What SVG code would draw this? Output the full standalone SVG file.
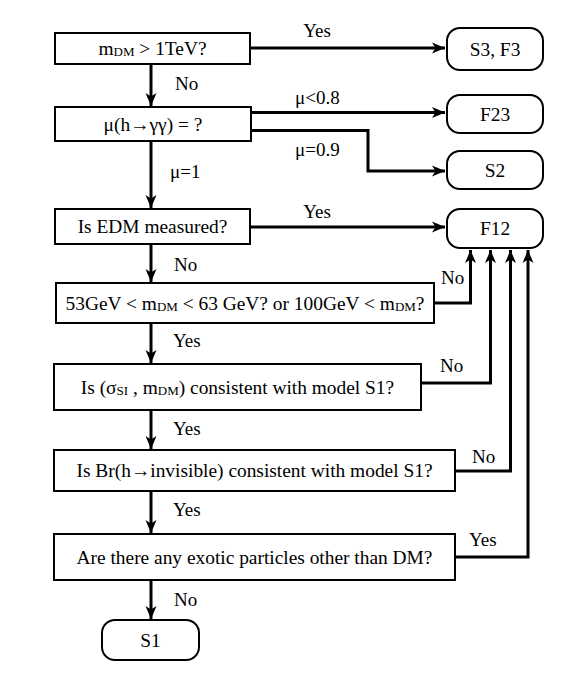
<svg xmlns="http://www.w3.org/2000/svg" width="581" height="678" viewBox="0 0 581 678">
<style>
.box{fill:#fff;stroke:#000;stroke-width:2}
.t{font-family:"Liberation Serif","Times New Roman",serif;font-size:19px;fill:#000}
.b{font-size:19.4px}
.c{text-anchor:middle}
.sub{font-size:13px}
.ln{fill:none;stroke:#000;stroke-width:3}
</style>
<defs>
<marker id="ah" markerUnits="userSpaceOnUse" markerWidth="14" markerHeight="12" refX="13" refY="6" orient="auto">
<path d="M0,0.5 L13,6 L0,11.5 L3.5,6 z" fill="#000"/>
</marker>
</defs>
<rect width="581" height="678" fill="#fff"/>
<g id="connectors">
<path class="ln" d="M250,48 H445" marker-end="url(#ah)"/>
<path class="ln" d="M151,64 V106" marker-end="url(#ah)"/>
<path class="ln" d="M251,112.5 H445" marker-end="url(#ah)"/>
<path class="ln" d="M251,130.5 H368 V171 H445" marker-end="url(#ah)"/>
<path class="ln" d="M151,141 V208" marker-end="url(#ah)"/>
<path class="ln" d="M250,227 H445" marker-end="url(#ah)"/>
<path class="ln" d="M151,244 V282" marker-end="url(#ah)"/>
<path class="ln" d="M434,303 H470.5 V250" marker-end="url(#ah)"/>
<path class="ln" d="M151,323 V363" marker-end="url(#ah)"/>
<path class="ln" d="M421,383 H490.5 V250" marker-end="url(#ah)"/>
<path class="ln" d="M151,410 V449" marker-end="url(#ah)"/>
<path class="ln" d="M455,471 H510.5 V250" marker-end="url(#ah)"/>
<path class="ln" d="M151,491 V533" marker-end="url(#ah)"/>
<path class="ln" d="M455,557 H528 V250" marker-end="url(#ah)"/>
<path class="ln" d="M151,580 V619" marker-end="url(#ah)"/>
<text class="t c" x="317" y="37">Yes</text>
<text class="t" x="175" y="90">No</text>
<text class="t" x="295" y="104">μ&lt;0.8</text>
<text class="t" x="295" y="156">μ=0.9</text>
<text class="t" x="170" y="178">μ=1</text>
<text class="t c" x="317" y="218">Yes</text>
<text class="t" x="174" y="271">No</text>
<text class="t" x="441" y="284">No</text>
<text class="t" x="173" y="347">Yes</text>
<text class="t" x="440" y="372">No</text>
<text class="t" x="173" y="435">Yes</text>
<text class="t" x="472" y="463">No</text>
<text class="t" x="173" y="516">Yes</text>
<text class="t" x="469" y="546">Yes</text>
<text class="t" x="174" y="606">No</text>
</g>
<g id="n1"><rect class="box" x="55" y="33" width="195" height="31"/>
<text class="t b c" x="152.5" y="55">m<tspan class="sub" dy="1">DM</tspan><tspan dy="-1"> &gt; 1TeV?</tspan></text></g>
<g id="n2"><rect class="box" x="55" y="107" width="196" height="34"/>
<text class="t b c" x="153" y="130.5">μ(h→γγ) = ?</text></g>
<g id="n3"><rect class="box" x="55" y="209" width="195" height="35"/>
<text class="t b c" x="152.5" y="232.5">Is EDM measured?</text></g>
<g id="n4"><rect class="box" x="56" y="283" width="378" height="40"/>
<text class="t b c" x="245" y="309.5">53GeV &lt; m<tspan class="sub" dy="1">DM</tspan><tspan dy="-1"> &lt; 63 GeV? or 100GeV &lt; m</tspan><tspan class="sub" dy="1">DM</tspan><tspan dy="-1">?</tspan></text></g>
<g id="n5"><rect class="box" x="54" y="364" width="367" height="46"/>
<text class="t b c" x="237.5" y="393.5">Is (σ<tspan class="sub" dy="1">SI</tspan><tspan dy="-1"> , m</tspan><tspan class="sub" dy="1">DM</tspan><tspan dy="-1">) consistent with model S1?</tspan></text></g>
<g id="n6"><rect class="box" x="54" y="450" width="401" height="41"/>
<text class="t b c" x="254.5" y="477">Is Br(h→invisible) consistent with model S1?</text></g>
<g id="n7"><rect class="box" x="54" y="534" width="401" height="46"/>
<text class="t b c" x="254.5" y="563.5">Are there any exotic particles other than DM?</text></g>
<g id="s3f3"><rect class="box" x="447" y="28" width="96" height="42" rx="13"/>
<text class="t b c" x="495" y="55.5">S3, F3</text></g>
<g id="f23"><rect class="box" x="447" y="95" width="96" height="38" rx="13"/>
<text class="t b c" x="495" y="120.5">F23</text></g>
<g id="s2"><rect class="box" x="447" y="151" width="96" height="38" rx="13"/>
<text class="t b c" x="495" y="176.5">S2</text></g>
<g id="f12"><rect class="box" x="447" y="209" width="96" height="39" rx="13"/>
<text class="t b c" x="495" y="235">F12</text></g>
<g id="s1"><rect class="box" x="102" y="620" width="97" height="40" rx="13"/>
<text class="t b c" x="150.5" y="646.5">S1</text></g>
</svg>
